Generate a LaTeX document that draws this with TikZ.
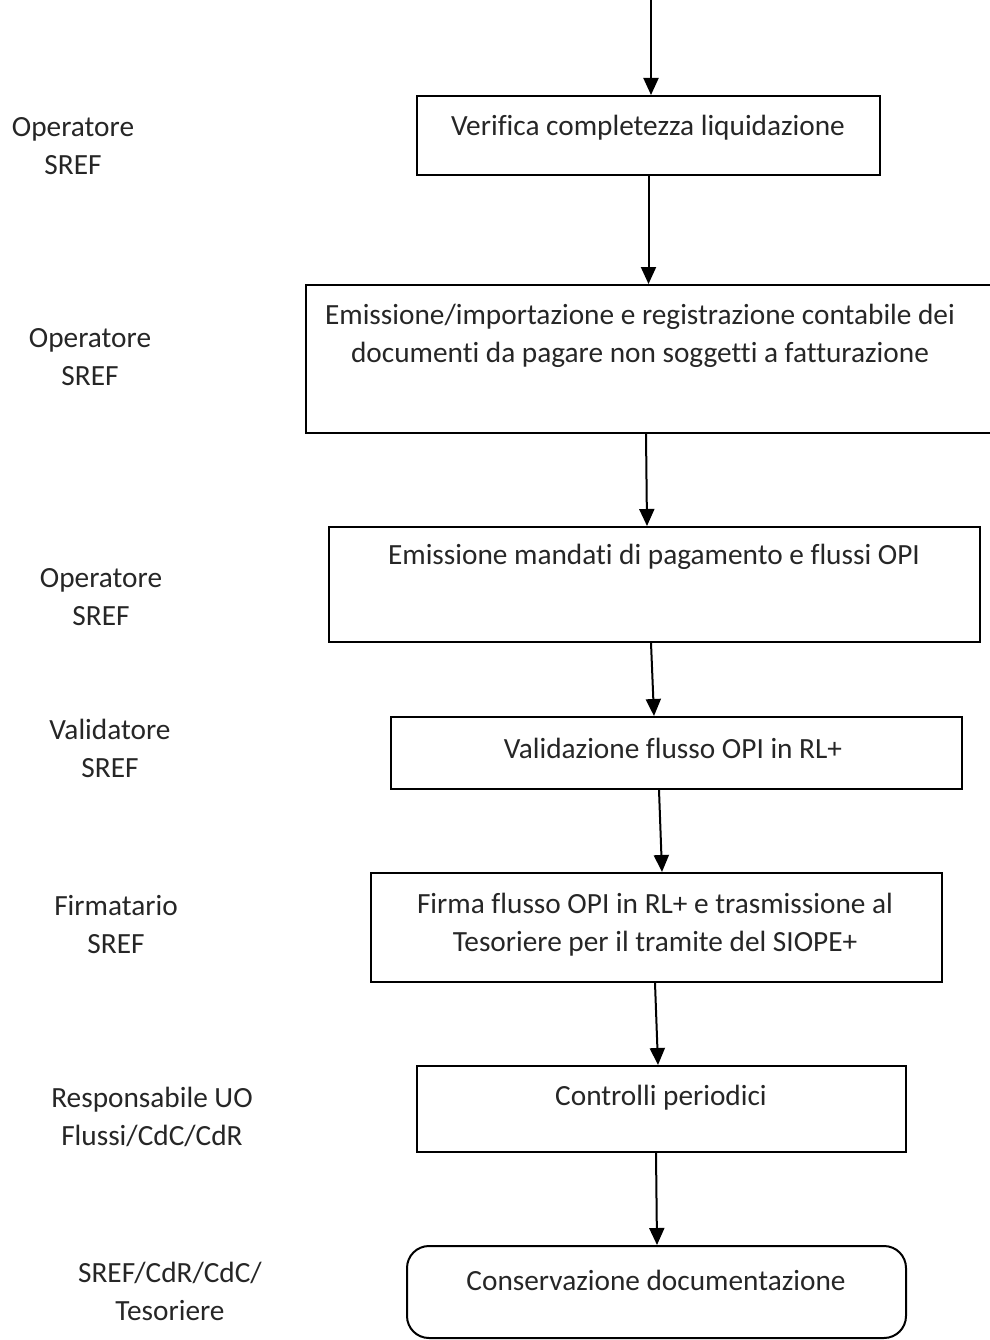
\documentclass[tikz,border=0pt]{standalone}
\usepackage{fontspec}
\setmainfont{Carlito}[Ligatures=NoCommon]
\usetikzlibrary{arrows.meta}
\definecolor{txt}{HTML}{262626}
\tikzset{
  boxnode/.style={draw=black, line width=2pt, rectangle, inner sep=0pt},
  roundnode/.style={draw=black, line width=2pt, rectangle, rounded corners=22pt, inner sep=0pt},
  lbl/.style={text=txt, align=center, inner sep=0pt, font=\fontsize{29.3}{38}\selectfont},
  arr/.style={line width=2pt, -{Triangle[length=17pt,width=15pt]}},
}
\begin{document}
\begin{tikzpicture}[x=1pt,y=-1pt]
\useasboundingbox (0,0) rectangle (989,1340);
% boxes
\node[boxnode, minimum width=463pt, minimum height=79pt] (b1) at (648.5,135.5) {};
\node[boxnode, minimum width=694pt, minimum height=148pt] (b2) at (653,359) {};
\node[boxnode, minimum width=651pt, minimum height=115pt] (b3) at (654.5,584.5) {};
\node[boxnode, minimum width=571pt, minimum height=72pt] (b4) at (676.5,753) {};
\node[boxnode, minimum width=571pt, minimum height=109pt] (b5) at (656.5,927.5) {};
\node[boxnode, minimum width=489pt, minimum height=86pt] (b6) at (661.5,1109) {};
\node[roundnode, minimum width=499pt, minimum height=92pt] (b7) at (656.5,1292) {};
% box texts
\node[lbl] (t1) at (648,128) {Verifica completezza liquidazione};
\node[lbl] (t2) at (640,336) {Emissione/importazione e registrazione contabile dei\\documenti da pagare non soggetti a fatturazione};
\node[lbl] (t3) at (654,557) {Emissione mandati di pagamento e flussi OPI};
\node[lbl] (t4) at (673,748) {Validazione flusso OPI in RL+};
\node[lbl] (t5) at (655,925) {Firma flusso OPI in RL+ e trasmissione al\\Tesoriere per il tramite del SIOPE+};
\node[lbl] (t6) at (661,1098) {Controlli periodici};
\node[lbl] (t7) at (656,1280) {Conservazione documentazione};
% role labels
\node[lbl] (r1) at (73,146.5) {Operatore\\SREF};
\node[lbl] (r2) at (90,357.5) {Operatore\\SREF};
\node[lbl] (r3) at (101,597.5) {Operatore\\SREF};
\node[lbl] (r4) at (110,748.5) {Validatore\\SREF};
\node[lbl] (r5) at (116,925) {Firmatario\\SREF};
\node[lbl] (r6) at (152,1117) {Responsabile UO\\Flussi/CdC/CdR};
\node[lbl] (r7) at (170,1291) {SREF/CdR/CdC/\\Tesoriere};
% arrows
\coordinate (start) at (651,0);
\draw[arr] (start) -- ([xshift=2.5pt]b1.north);
\draw[arr] (b1.south) -- (b1.south |- b2.north);
\draw[arr] ([xshift=-7pt]b2.south) -- ([xshift=-7.5pt]b3.north);
\draw[arr] ([xshift=-3.5pt]b3.south) -- ([xshift=-22.5pt]b4.north);
\draw[arr] ([xshift=-17.5pt]b4.south) -- ([xshift=5.5pt]b5.north);
\draw[arr] ([xshift=-1.5pt]b5.south) -- ([xshift=-3.5pt]b6.north);
\draw[arr] ([xshift=-5.5pt]b6.south) -- ([xshift=0.5pt]b7.north);
\end{tikzpicture}
\end{document}
